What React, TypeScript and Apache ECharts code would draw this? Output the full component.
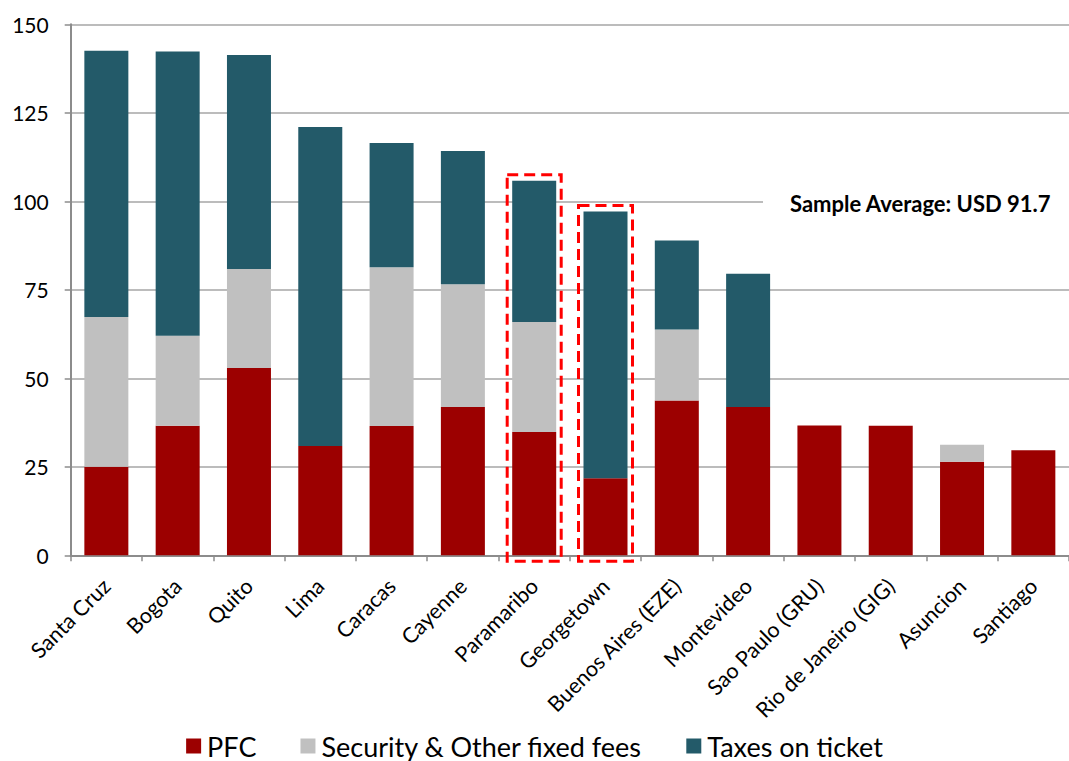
import React, { useEffect, useRef } from "react";
import * as echarts from "echarts";

const categories = [
  "Santa Cruz",
  "Bogota",
  "Quito",
  "Lima",
  "Caracas",
  "Cayenne",
  "Paramaribo",
  "Georgetown",
  "Buenos Aires (EZE)",
  "Montevideo",
  "Sao Paulo (GRU)",
  "Rio de Janeiro (GIG)",
  "Asuncion",
  "Santiago",
];
const pfc = [25.0, 36.6, 52.9, 30.9, 36.5, 41.9, 34.8, 21.8, 43.7, 41.9, 36.7, 36.6, 26.4, 29.7];
const security = [42.3, 25.4, 28.0, 0, 44.9, 34.7, 31.1, 0, 20.1, 0, 0, 0, 4.8, 0];
const taxes = [75.2, 80.3, 60.4, 90.1, 35.1, 37.6, 39.9, 75.3, 25.1, 37.6, 0, 0, 0, 0];
const seriesNames = ["PFC", "Security & Other fixed fees", "Taxes on ticket"];
const highlighted = ["Paramaribo", "Georgetown"];
const averageLabel = "Sample Average: USD 91.7";
const averageAnchor = 100;
const yTicks = { min: 0, max: 150, interval: 25 };

const FONT = "Lato";
const colors = ["#9C0000", "#C0C0C0", "#235A69"];

export default function App() {
  const ref = useRef<HTMLDivElement>(null);
  useEffect(() => {
    if (!ref.current) return;
    const chart = echarts.init(ref.current, null, { renderer: "svg" });
    const mk = (name: string, data: number[], color: string) => ({
      name,
      type: "bar",
      stack: "total",
      data,
      barWidth: 44,
      itemStyle: { color },
    });
    chart.setOption({
      animation: false,
      textStyle: { fontFamily: FONT },
      grid: { left: 70.7, right: -9.7, top: 24.3, bottom: 205.7, containLabel: false },
      xAxis: {
        type: "category",
        data: categories,
        axisLine: { lineStyle: { color: "#8C8C8C", width: 2 } },
        axisTick: { show: true, length: 6, lineStyle: { color: "#8C8C8C", width: 1.5 } },
        axisLabel: {
          interval: 0,
          rotate: 45,
          margin: 27,
          color: "#000",
          fontSize: 21.5,
          fontFamily: FONT,
        },
      },
      yAxis: {
        type: "value",
        min: yTicks.min,
        max: yTicks.max,
        interval: yTicks.interval,
        axisLine: { show: true, lineStyle: { color: "#8C8C8C", width: 2 } },
        axisTick: { show: true, length: 6, lineStyle: { color: "#8C8C8C", width: 1.5 } },
        splitLine: { lineStyle: { color: "#A6A6A6", width: 1.5 } },
        axisLabel: { color: "#000", fontSize: 21, fontFamily: FONT, margin: 22 },
      },
      legend: {
        data: seriesNames,
        left: "center",
        top: 726,
        itemWidth: 15,
        itemHeight: 15,
        itemGap: 44,
        icon: "rect",
        textStyle: { fontSize: 27, lineHeight: 30, color: "#000", fontFamily: FONT, padding: [0, 0, 0, 1] },
      },
      series: [
        mk(seriesNames[0], pfc, colors[0]),
        mk(seriesNames[1], security, colors[1]),
        mk(seriesNames[2], taxes, colors[2]),
      ],
    });

    const graphics: any[] = [];
    highlighted.forEach((name) => {
      const i = categories.indexOf(name);
      const total = pfc[i] + security[i] + taxes[i];
      const top = chart.convertToPixel({ gridIndex: 0 }, [i, total]) as number[];
      const base = chart.convertToPixel({ gridIndex: 0 }, [i, 0]) as number[];
      const y0 = top[1] - 6;
      const y1 = base[1] + 6;
      graphics.push({
        type: "rect",
        z: 100,
        shape: { x: top[0] - 27, y: y0, width: 54, height: y1 - y0 },
        style: { fill: "none", stroke: "#FF0000", lineWidth: 3, lineDash: [11, 6] },
      });
    });
    const avg = chart.convertToPixel({ gridIndex: 0 }, [0, averageAnchor]) as number[];
    graphics.push({
      type: "rect",
      z: 50,
      shape: { x: 763, y: avg[1] - 14, width: 320, height: 28 },
      style: { fill: "#FFFFFF" },
    });
    graphics.push({
      type: "text",
      z: 51,
      style: {
        x: 790,
        y: avg[1] + 2,
        text: averageLabel,
        fontFamily: FONT,
        fontWeight: "bold",
        fontSize: 22,
        fill: "#000",
        textAlign: "left",
        textVerticalAlign: "middle",
      },
    });
    chart.setOption({ graphic: graphics });
    return () => chart.dispose();
  }, []);
  return (
    <div
      ref={ref}
      style={{ position: "absolute", left: 0, top: 0, width: 1069, height: 761, background: "#fff" }}
    />
  );
}
